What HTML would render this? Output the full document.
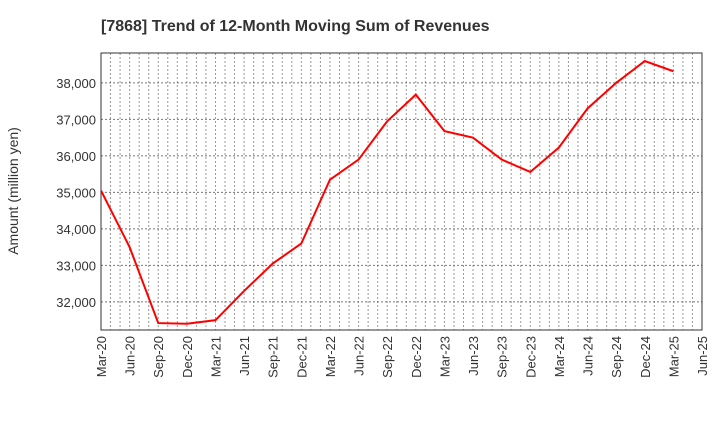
<!DOCTYPE html>
<html><head><meta charset="utf-8"><style>
body{margin:0;background:#fff;font-family:"Liberation Sans",sans-serif;}
</style></head><body>
<svg id="c" width="720" height="440" xmlns="http://www.w3.org/2000/svg">
<text x="101" y="31" text-anchor="start" font-size="16" font-weight="bold" fill="#333">[7868]  Trend of 12-Month Moving Sum of Revenues</text>
<text transform="translate(18,191) rotate(-90)" text-anchor="middle" font-size="14" fill="#333">Amount (million yen)</text>
<g id="grid"></g><g id="ax"></g><g id="ser"></g>
</svg>
<script>
const categories=["Mar-20","Jun-20","Sep-20","Dec-20","Mar-21","Jun-21","Sep-21","Dec-21","Mar-22","Jun-22","Sep-22","Dec-22","Mar-23","Jun-23","Sep-23","Dec-23","Mar-24","Jun-24","Sep-24","Dec-24","Mar-25"];
const revenues=[35050,33500,31420,31400,31500,32300,33050,33600,35350,35900,36950,37680,36680,36500,35900,35560,36230,37300,38000,38600,38320];
const xTickLabels=["Mar-20","Jun-20","Sep-20","Dec-20","Mar-21","Jun-21","Sep-21","Dec-21","Mar-22","Jun-22","Sep-22","Dec-22","Mar-23","Jun-23","Sep-23","Dec-23","Mar-24","Jun-24","Sep-24","Dec-24","Mar-25","Jun-25"];
const yTicks=[32000,33000,34000,35000,36000,37000,38000];
const L=101,R=702,T=53,B=330,yMin=31230,yMax=38820;
const ns="http://www.w3.org/2000/svg";
const nQ=xTickLabels.length-1;
const xq=i=>L+(R-L)*i/nQ;
const y=v=>B-(v-yMin)/(yMax-yMin)*(B-T);
function mk(t,a,p){const e=document.createElementNS(ns,t);for(const k in a)e.setAttribute(k,a[k]);p.appendChild(e);return e;}
const g=document.getElementById('grid'),ax=document.getElementById('ax'),ser=document.getElementById('ser');
for(let m=1;m<nQ*3;m++){const x=L+(R-L)*m/(nQ*3);
const l=mk('line',{x1:x,x2:x,y1:T,y2:B,stroke:'#999','stroke-dasharray':'2,2','stroke-width':1},g);

}
yTicks.forEach(v=>{const l=mk('line',{x1:L,x2:R,y1:y(v),y2:y(v),stroke:'#777','stroke-dasharray':'2,2','stroke-width':1},g);


const t=mk('text',{x:L-5,y:y(v)+5,'text-anchor':'end','font-size':13,fill:'#333'},ax);t.textContent=v.toLocaleString('en-US');

});
const fr=mk('rect',{x:L,y:T,width:R-L,height:B-T,fill:'none',stroke:'#333','stroke-width':1},ax);


xTickLabels.forEach((s,i)=>{const x=xq(i);const t=mk('text',{transform:`translate(${x+5},${B+6}) rotate(-90)`,'text-anchor':'end','font-size':13,fill:'#333'},ax);t.textContent=s;

});
const pts=revenues.map((v,i)=>xq(i)+','+y(v)).join(' ');
const pl=mk('polyline',{points:pts,fill:'none',stroke:'#ff0000','stroke-width':2},ser);


</script>
</body></html>
